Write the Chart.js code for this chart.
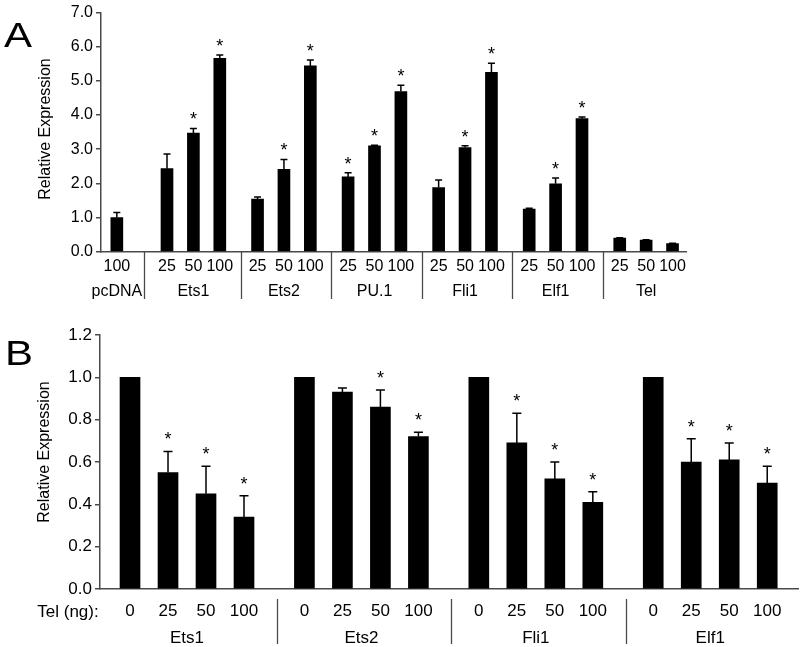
<!DOCTYPE html>
<html>
<head>
<meta charset="utf-8">
<script src="https://cdn.jsdelivr.net/npm/chart.js@4"></script>
<style>
  body { margin: 0; background: #fff; font-family: "Liberation Sans", Arial, sans-serif; }
  #wrap { position: relative; width: 800px; height: 647px; }
  canvas { position: absolute; left: 0; }
  .panel { position: absolute; color: #000; line-height: 1; transform: scaleX(1.2); transform-origin: left top; }
</style>
</head>
<body>
<div id="wrap">
  <canvas id="chartA" width="800" height="310" style="top:0"></canvas>
  <canvas id="chartB" width="800" height="337" style="top:310px"></canvas>
  <div class="panel" style="left:4px;top:17px;font-size:35px">A</div>
  <div class="panel" style="left:5px;top:335px;font-size:35px">B</div>
</div>
<script>
// ---------- Data: panel A ----------
const groupsA = ["pcDNA", "Ets1", "Ets2", "PU.1", "Fli1", "Elf1", "Tel"];
const dosesA = [["100"], ["25", "50", "100"], ["25", "50", "100"], ["25", "50", "100"],
  ["25", "50", "100"], ["25", "50", "100"], ["25", "50", "100"]];
const meansA = [[1.0], [2.43, 3.47, 5.66], [1.54, 2.41, 5.44], [2.19, 3.10, 4.69],
  [1.88, 3.05, 5.25], [1.25, 1.99, 3.90], [0.40, 0.34, 0.24]];
const errorsA = [[0.15], [0.43, 0.14, 0.10], [0.06, 0.29, 0.17], [0.12, 0.02, 0.18],
  [0.22, 0.05, 0.27], [0.02, 0.17, 0.04], [0.01, 0.01, 0.01]];
const starsA = [[0], [0, 1, 1], [0, 1, 1], [1, 1, 1], [0, 1, 1], [0, 1, 1], [0, 0, 0]];
const yTicksA = [0, 1, 2, 3, 4, 5, 6, 7];

// ---------- Data: panel B ----------
const groupsB = ["Ets1", "Ets2", "Fli1", "Elf1"];
const dosesB = ["0", "25", "50", "100"];
const meansB = [[1.0, 0.55, 0.45, 0.34], [1.0, 0.93, 0.86, 0.72],
  [1.0, 0.69, 0.52, 0.41], [1.0, 0.60, 0.61, 0.50]];
const errorsB = [[0, 0.10, 0.13, 0.10], [0, 0.02, 0.08, 0.02],
  [0, 0.14, 0.08, 0.05], [0, 0.11, 0.08, 0.08]];
const starsB = [[0, 1, 1, 1], [0, 0, 1, 1], [0, 1, 1, 1], [0, 1, 1, 1]];
const yTicksB = [0, 0.2, 0.4, 0.6, 0.8, 1.0, 1.2];

const FONT = "'Liberation Sans', Arial, sans-serif";
const AXIS = "#4a4a4a";

// ---------- Layout helpers (slot positions on a linear x scale) ----------
function layoutA() {
  const bars = [];
  groupsA.forEach((g, gi) => {
    const start = gi === 0 ? 0.6 : 2.5 + 3.43 * (gi - 1);
    dosesA[gi].forEach((d, di) => {
      bars.push({ x: start + di, y: meansA[gi][di], err: errorsA[gi][di],
        star: starsA[gi][di], label: d, group: gi });
    });
  });
  return bars;
}

function layoutB() {
  const bars = [];
  groupsB.forEach((g, gi) => {
    const start = 0.79 + 4.59 * gi;
    dosesB.forEach((d, di) => {
      bars.push({ x: start + di, y: meansB[gi][di], err: errorsB[gi][di],
        star: starsB[gi][di], label: d, group: gi });
    });
  });
  return bars;
}

// group centres and separators, from the bar positions
function groupInfo(bars, nGroups) {
  const centers = [], seps = [];
  for (let g = 0; g < nGroups; g++) {
    const xs = bars.filter(b => b.group === g).map(b => b.x);
    centers.push((Math.min(...xs) + Math.max(...xs)) / 2);
    if (g > 0) {
      const prev = bars.filter(b => b.group === g - 1).map(b => b.x);
      seps.push((Math.max(...prev) + Math.min(...xs)) / 2 + 0.07);
    }
  }
  return { centers, seps };
}

// ---------- Plugin: error bars, stars, group labels, separators ----------
const extras = {
  id: "extras",
  afterDraw(chart, args, o) {
    const ctx = chart.ctx;
    const xs = chart.scales.x, ys = chart.scales.y;
    const meta = chart.getDatasetMeta(0);
    ctx.save();
    ctx.strokeStyle = "#000";
    ctx.fillStyle = "#000";
    ctx.lineWidth = 1.5;

    o.bars.forEach((b, i) => {
      const x = meta.data[i].x;
      const y0 = ys.getPixelForValue(b.y);
      const y1 = ys.getPixelForValue(b.y + b.err);
      if (b.err > 0) {
        ctx.beginPath();
        ctx.moveTo(x, y0);
        ctx.lineTo(x, y1);
        ctx.moveTo(x - o.cap, y1);
        ctx.lineTo(x + o.cap, y1);
        ctx.stroke();
      }
      if (b.star) {
        ctx.font = o.starSize + "px " + FONT;
        ctx.textAlign = "center";
        ctx.textBaseline = "alphabetic";
        ctx.fillText("*", x, y1 - o.starGap + o.starSize * 0.72);
      }
    });

    // group labels
    ctx.font = o.fontSize + "px " + FONT;
    ctx.textAlign = "center";
    ctx.textBaseline = "middle";
    o.info.centers.forEach((c, gi) => {
      ctx.fillText(o.groups[gi], xs.getPixelForValue(c), o.groupY);
    });

    // separators under the axis
    ctx.strokeStyle = AXIS;
    ctx.lineWidth = 1.3;
    o.info.seps.forEach(s => {
      const x = Math.round(xs.getPixelForValue(s)) + 0.5;
      ctx.beginPath();
      ctx.moveTo(x, o.sepTop);
      ctx.lineTo(x, o.sepBottom);
      ctx.stroke();
    });

    // y axis title
    ctx.save();
    ctx.translate(o.titleX, o.titleY);
    ctx.rotate(-Math.PI / 2);
    ctx.font = "16px " + FONT;
    ctx.fillStyle = "#000";
    ctx.textAlign = "center";
    ctx.textBaseline = "middle";
    ctx.fillText("Relative Expression", 0, 0);
    ctx.restore();

    if (o.rowLabel) {
      ctx.font = o.fontSize + "px " + FONT;
      ctx.textAlign = "center";
      ctx.textBaseline = "middle";
      ctx.fillText(o.rowLabel, o.rowLabelX, o.rowLabelY);
    }
    ctx.restore();
  }
};

function makeChart(id, bars, cfg) {
  const info = groupInfo(bars, cfg.groups.length);
  return new Chart(document.getElementById(id), {
    type: "bar",
    data: {
      datasets: [{
        data: bars.map(b => ({ x: b.x, y: b.y })),
        backgroundColor: "#000",
        borderWidth: 0,
        barThickness: cfg.barWidth,
      }],
    },
    options: {
      responsive: false,
      animation: false,
      layout: { padding: { top: cfg.top, right: cfg.right, left: 0, bottom: 0 } },
      plugins: {
        legend: { display: false },
        tooltip: { enabled: false },
        extras: Object.assign({ bars, info }, cfg.extras, { groups: cfg.groups, fontSize: cfg.fontSize }),
      },
      scales: {
        x: {
          type: "linear",
          offset: false,
          min: 0,
          max: cfg.xMax,
          afterBuildTicks: (s) => { s.ticks = bars.map(b => ({ value: b.x })); },
          afterFit: (s) => { s.height = cfg.xHeight; },
          grid: { display: false, drawTicks: false },
          border: { display: true, color: AXIS, width: 1.5 },
          ticks: {
            autoSkip: false,
            maxRotation: 0,
            padding: cfg.xPad,
            color: "#000",
            font: { family: FONT, size: cfg.fontSize },
            callback: (v, i) => bars[i] ? bars[i].label : "",
          },
        },
        y: {
          min: 0,
          max: cfg.yMax,
          afterBuildTicks: (s) => { s.ticks = cfg.yTicks.map(v => ({ value: v })); },
          afterFit: (s) => { s.width = cfg.yWidth; },
          grid: { drawOnChartArea: false, drawTicks: true, tickLength: 5, color: AXIS, lineWidth: 1.5 },
          border: { display: true, color: AXIS, width: 1.5 },
          ticks: {
            padding: 3,
            color: "#000",
            font: { family: FONT, size: cfg.fontSize },
            callback: (v) => Number(v).toFixed(1),
          },
        },
      },
    },
    plugins: [extras],
  });
}

// ---------- Panel A ----------
makeChart("chartA", layoutA(), {
  groups: groupsA, yTicks: yTicksA, yMax: 7, xMax: 22.16,
  top: 10.7, right: 114, yWidth: 101, xHeight: 58.3, xPad: 5,
  barWidth: 12, fontSize: 16,
  extras: { cap: 3.5, starSize: 18, starGap: 16, groupY: 292,
    sepTop: 252, sepBottom: 299, titleX: 46, titleY: 129 },
});

// ---------- Panel B ----------
makeChart("chartB", layoutB(), {
  groups: groupsB, yTicks: yTicksB, yMax: 1.2, xMax: 18.37,
  top: 25, right: 2, yWidth: 100, xHeight: 58, xPad: 12,
  barWidth: 20, fontSize: 17,
  extras: { cap: 4.5, starSize: 18, starGap: 19, groupY: 328,
    sepTop: 289, sepBottom: 334, titleX: 45, titleY: 142,
    rowLabel: "Tel (ng):", rowLabelX: 68, rowLabelY: 302 },
});
</script>
</body>
</html>
